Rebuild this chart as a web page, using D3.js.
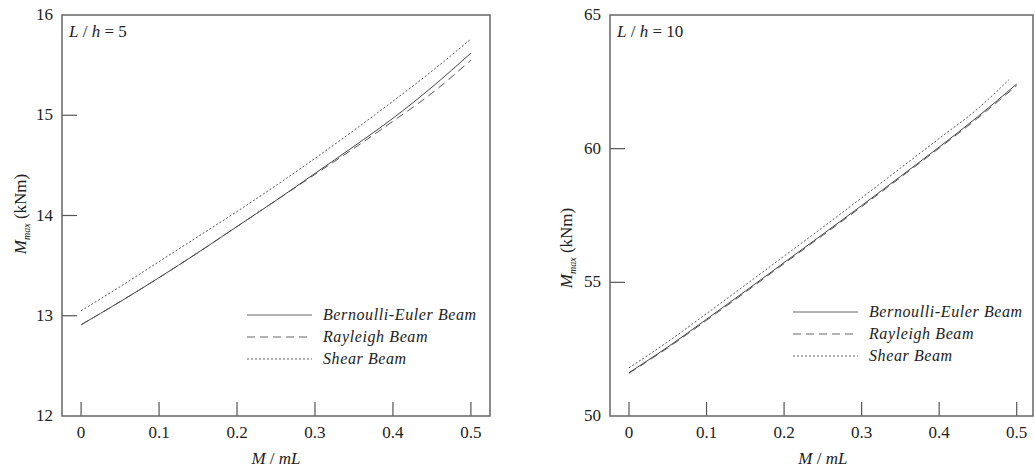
<!DOCTYPE html>
<html><head><meta charset="utf-8">
<script src="https://cdn.jsdelivr.net/npm/d3@7"></script>
<style>
body{margin:0;background:#fff;}
svg text{font-family:"Liberation Serif","Times New Roman",serif;fill:#222;}
</style></head>
<body><svg id="c" width="1035" height="470"></svg>
<script>
const xs = [0, 0.05, 0.1, 0.15, 0.2, 0.25, 0.3, 0.35, 0.4, 0.45, 0.5];
// L/h = 5
const be5 = [12.91, 13.14, 13.38, 13.63, 13.89, 14.15, 14.42, 14.69, 14.97, 15.28, 15.62];
const ra5 = [12.91, 13.14, 13.38, 13.63, 13.89, 14.15, 14.41, 14.67, 14.94, 15.22, 15.55];
const sh5 = [13.05, 13.29, 13.54, 13.79, 14.04, 14.30, 14.57, 14.85, 15.14, 15.44, 15.76];
// L/h = 10
const xsSh10 = [0, 0.05, 0.1, 0.15, 0.2, 0.25, 0.3, 0.35, 0.4, 0.45, 0.49];
const be10 = [51.62, 52.58, 53.62, 54.67, 55.74, 56.80, 57.87, 58.96, 60.06, 61.20, 62.42];
const ra10 = [51.60, 52.55, 53.58, 54.63, 55.70, 56.76, 57.83, 58.92, 60.02, 61.15, 62.36];
const sh10 = [51.80, 52.78, 53.83, 54.90, 55.98, 57.06, 58.16, 59.27, 60.38, 61.50, 62.58];
const xTicks = [0, 0.1, 0.2, 0.3, 0.4, 0.5];
const yTicks5 = [12, 13, 14, 15, 16];
const yTicks10 = [50, 55, 60, 65];
const seriesNames = ["Bernoulli-Euler Beam", "Rayleigh Beam", "Shear Beam"];
const dashes = [null, "8,5", "2,2"];

const svg = d3.select("#c");

function panel(o){
  const g = svg.append("g");
  const x = d3.scaleLinear().domain(o.xdom).range([o.left, o.right]);
  const y = d3.scaleLinear().domain(o.ydom).range([o.bottom, o.top]);
  g.selectAll(".xt").data(xTicks).enter().append("line")
    .attr("x1", d=>x(d)).attr("x2", d=>x(d)).attr("y1", o.bottom).attr("y2", o.bottom-14)
    .attr("stroke","#555").attr("stroke-width",1.2);
  g.selectAll(".xl").data(xTicks).enter().append("text")
    .attr("x", d=>x(d)).attr("y", o.bottom+22).attr("text-anchor","middle")
    .attr("font-size",17).text(d=>d===0?"0":d3.format(".1f")(d));
  const yt = o.yticks.filter(d=>d>o.ydom[0] && d<o.ydom[1]);
  g.selectAll(".yt").data(yt).enter().append("line")
    .attr("x1", o.left).attr("x2", o.left+15).attr("y1", d=>y(d)).attr("y2", d=>y(d))
    .attr("stroke","#555").attr("stroke-width",1.2);
  g.selectAll(".yl").data(o.yticks).enter().append("text")
    .attr("x", o.left-9).attr("y", d=>y(d)+5).attr("text-anchor","end")
    .attr("font-size",17).text(d=>d);
  g.append("rect").attr("x",o.left).attr("y",o.top).attr("width",o.right-o.left).attr("height",o.bottom-o.top)
    .attr("fill","none").attr("stroke","#666").attr("stroke-width",1.5);
  const line = d3.line().curve(d3.curveMonotoneX);
  o.series.forEach((s,i)=>{
    g.append("path").attr("d", line(s.xs.map((v,k)=>[x(v), y(s.ys[k])])))
      .attr("fill","none").attr("stroke", i===0?"#444":"#555").attr("stroke-width",1)
      .attr("stroke-dasharray", dashes[i]);
  });
  const lab = g.append("text").attr("x", o.left+7).attr("y", o.top+22).attr("font-size",17);
  lab.append("tspan").attr("font-style","italic").text("L");
  lab.append("tspan").text(" / ");
  lab.append("tspan").attr("font-style","italic").text("h");
  lab.append("tspan").text(" = " + o.lh);
  seriesNames.forEach((n,i)=>{
    const ly = o.legY + i*22;
    g.append("line").attr("x1",o.legX).attr("x2",o.legX+65).attr("y1",ly).attr("y2",ly)
      .attr("stroke","#666").attr("stroke-width",1).attr("stroke-dasharray",dashes[i]);
    g.append("text").attr("x",o.legX+76).attr("y",ly+5).attr("font-size",16)
      .attr("font-style","italic").attr("letter-spacing","0.6px").text(n);
  });
  const xt = g.append("text").attr("x",(x(0)+x(0.5))/2).attr("y",o.bottom+48).attr("text-anchor","middle").attr("font-size",17);
  xt.append("tspan").attr("font-style","italic").text("M");
  xt.append("tspan").text(" / ");
  xt.append("tspan").attr("font-style","italic").text("mL");
  const yl = g.append("text").attr("transform",`translate(${o.ytX},${o.ytY}) rotate(-90)`)
    .attr("text-anchor","middle").attr("font-size",17);
  yl.append("tspan").attr("font-style","italic").text("M");
  yl.append("tspan").attr("font-style","italic").attr("font-size",10).attr("dy",4).text("max");
  yl.append("tspan").attr("dy",-4).text(" (kNm)");
}

panel({left:62,right:490,top:15,bottom:416,xdom:[-0.0245,0.5245],ydom:[12,16],yticks:yTicks5,lh:"5",
  series:[{xs:xs,ys:be5},{xs:xs,ys:ra5},{xs:xs,ys:sh5}], legX:247, legY:315, ytX:26, ytY:214});
panel({left:610,right:1033,top:15,bottom:416,xdom:[-0.0245,0.521],ydom:[50,65],yticks:yTicks10,lh:"10",
  series:[{xs:xs,ys:be10},{xs:xs,ys:ra10},{xs:xsSh10,ys:sh10}], legX:793, legY:312, ytX:572, ytY:248});
</script></body></html>
